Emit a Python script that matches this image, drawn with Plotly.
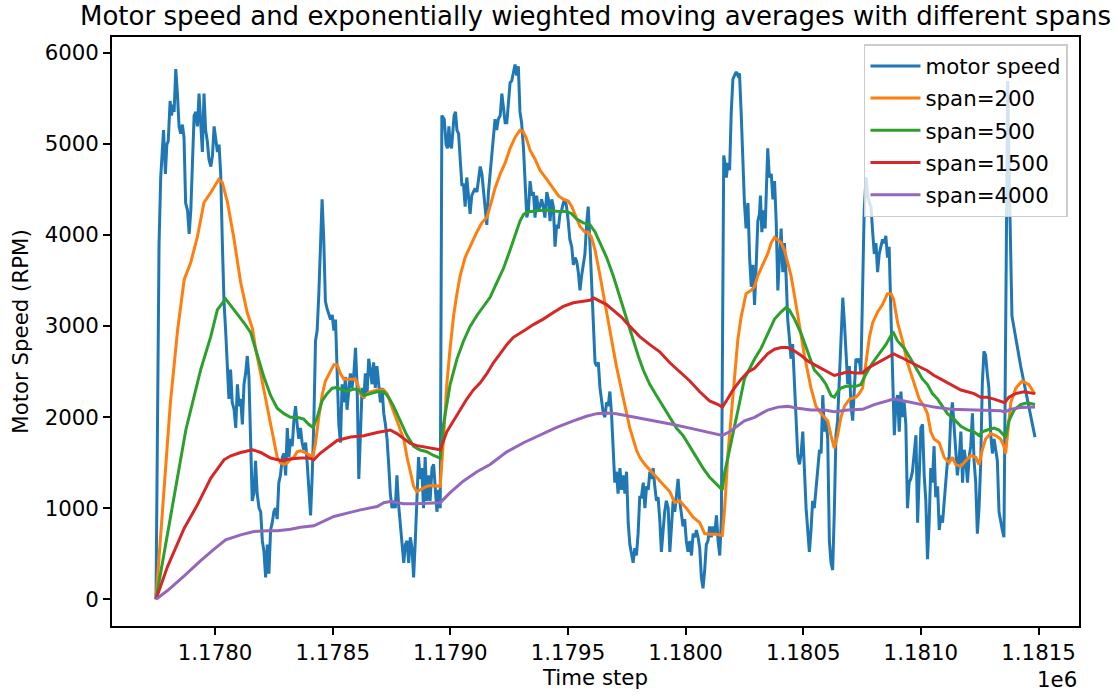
import plotly.graph_objects as go

# ---- motor speed samples (time step, RPM) ----
speed_t = [
    1177549, 1177555, 1177562, 1177569, 1177581, 1177589, 1177595, 1177601, 1177609, 1177615,
    1177620, 1177626, 1177633, 1177640, 1177647, 1177654, 1177661, 1177668, 1177675, 1177683,
    1177690, 1177697, 1177704, 1177711, 1177718, 1177725, 1177732, 1177739, 1177746, 1177753,
    1177760, 1177767, 1177774, 1177782, 1177789, 1177796, 1177803, 1177810, 1177817, 1177824,
    1177831, 1177838, 1177845, 1177852, 1177859, 1177866, 1177873, 1177881, 1177888, 1177895,
    1177902, 1177909, 1177916, 1177923, 1177930, 1177937, 1177944, 1177951, 1177958, 1177965,
    1177972, 1177979, 1177987, 1177994, 1178001, 1178008, 1178015, 1178022, 1178029, 1178036,
    1178043, 1178050, 1178057, 1178064, 1178071, 1178078, 1178086, 1178093, 1178100, 1178107,
    1178114, 1178121, 1178128, 1178135, 1178142, 1178149, 1178156, 1178163, 1178170, 1178177,
    1178185, 1178192, 1178199, 1178206, 1178213, 1178220, 1178227, 1178234, 1178241, 1178248,
    1178255, 1178262, 1178269, 1178276, 1178284, 1178291, 1178298, 1178305, 1178312, 1178319,
    1178326, 1178333, 1178340, 1178347, 1178354, 1178361, 1178368, 1178375, 1178382, 1178390,
    1178397, 1178404, 1178411, 1178418, 1178425, 1178432, 1178439, 1178446, 1178453, 1178460,
    1178467, 1178474, 1178481, 1178488, 1178496, 1178503, 1178510, 1178517, 1178524, 1178531,
    1178538, 1178545, 1178552, 1178559, 1178566, 1178573, 1178580, 1178588, 1178595, 1178602,
    1178609, 1178616, 1178623, 1178630, 1178637, 1178644, 1178651, 1178658, 1178665, 1178672,
    1178679, 1178686, 1178693, 1178700, 1178707, 1178714, 1178722, 1178729, 1178736, 1178743,
    1178750, 1178757, 1178764, 1178774, 1178782, 1178788, 1178794, 1178799, 1178805, 1178811,
    1178816, 1178822, 1178828, 1178835, 1178842, 1178849, 1178856, 1178863, 1178870, 1178877,
    1178884, 1178891, 1178898, 1178905, 1178913, 1178920, 1178927, 1178934, 1178941, 1178948,
    1178955, 1178962, 1178969, 1178976, 1178983, 1178990, 1178997, 1179004, 1179012, 1179019,
    1179026, 1179033, 1179040, 1179047, 1179054, 1179061, 1179068, 1179075, 1179082, 1179089,
    1179096, 1179103, 1179111, 1179118, 1179125, 1179132, 1179139, 1179146, 1179153, 1179160,
    1179167, 1179174, 1179181, 1179188, 1179195, 1179202, 1179210, 1179217, 1179224, 1179231,
    1179238, 1179245, 1179252, 1179259, 1179266, 1179273, 1179280, 1179287, 1179294, 1179301,
    1179308, 1179316, 1179323, 1179330, 1179337, 1179344, 1179351, 1179358, 1179365, 1179372,
    1179379, 1179386, 1179390, 1179396, 1179402, 1179407, 1179415, 1179422, 1179429, 1179436,
    1179443, 1179450, 1179457, 1179464, 1179471, 1179478, 1179485, 1179492, 1179499, 1179506,
    1179513, 1179521, 1179528, 1179535, 1179542, 1179549, 1179556, 1179563, 1179570, 1179577,
    1179584, 1179591, 1179598, 1179605, 1179612, 1179620, 1179627, 1179634, 1179641, 1179648,
    1179655, 1179662, 1179669, 1179676, 1179683, 1179690, 1179697, 1179704, 1179711, 1179718,
    1179726, 1179733, 1179740, 1179747, 1179754, 1179761, 1179768, 1179775, 1179782, 1179789,
    1179796, 1179803, 1179810, 1179818, 1179825, 1179832, 1179839, 1179846, 1179853, 1179860,
    1179867, 1179874, 1179881, 1179888, 1179895, 1179902, 1179909, 1179916, 1179924, 1179931,
    1179938, 1179945, 1179952, 1179956, 1179962, 1179967, 1179973, 1179980, 1179987, 1179994,
    1180001, 1180008, 1180015, 1180022, 1180029, 1180036, 1180043, 1180050, 1180057, 1180065,
    1180072, 1180079, 1180086, 1180093, 1180100, 1180107, 1180114, 1180118, 1180124, 1180132,
    1180138, 1180142, 1180149, 1180156, 1180164, 1180171, 1180178, 1180185, 1180192, 1180199,
    1180206, 1180213, 1180220, 1180227, 1180234, 1180241, 1180248, 1180255, 1180263, 1180270,
    1180277, 1180284, 1180291, 1180298, 1180305, 1180312, 1180319, 1180326, 1180333, 1180340,
    1180347, 1180354, 1180362, 1180369, 1180376, 1180383, 1180390, 1180397, 1180404, 1180411,
    1180418, 1180425, 1180432, 1180439, 1180446, 1180453, 1180460, 1180468, 1180475, 1180482,
    1180489, 1180496, 1180503, 1180510, 1180517, 1180524, 1180531, 1180538, 1180545, 1180552,
    1180559, 1180567, 1180574, 1180581, 1180588, 1180595, 1180602, 1180609, 1180616, 1180623,
    1180630, 1180637, 1180644, 1180651, 1180658, 1180665, 1180673, 1180680, 1180687, 1180694,
    1180701, 1180708, 1180715, 1180722, 1180729, 1180736, 1180743, 1180750, 1180757, 1180764,
    1180772, 1180779, 1180786, 1180793, 1180800, 1180807, 1180814, 1180821, 1180828, 1180835,
    1180842, 1180849, 1180856, 1180863, 1180871, 1180878, 1180885, 1180892, 1180899, 1180906,
    1180913, 1180920, 1180927, 1180934, 1180941, 1180948, 1180955, 1180962, 1180970, 1180977,
    1180984, 1180991, 1180998, 1181005, 1181012, 1181019, 1181026, 1181033, 1181040, 1181047,
    1181054, 1181061, 1181068, 1181075, 1181082, 1181089, 1181097, 1181104, 1181111, 1181118,
    1181125, 1181132, 1181139, 1181146, 1181153, 1181160, 1181165, 1181169, 1181176, 1181182,
    1181187, 1181224, 1181252, 1181285,
]
speed_rpm = [
    0, 1760, 3910, 4630, 5150, 4670, 4990, 5030, 5470, 5310,
    5430, 5350, 5820, 5550, 5190, 5110, 5210, 5070, 4350, 4270,
    4010, 4270, 4750, 5310, 5350, 5190, 5550, 5150, 4910, 5550,
    5150, 5030, 4830, 4750, 4870, 5190, 5030, 4910, 4990, 4670,
    3910, 3270, 2950, 2560, 2200, 2520, 2160, 2080, 1880, 2360,
    2120, 2200, 1920, 2360, 2480, 2670, 2440, 1760, 1080, 1160,
    1520, 1160, 1000, 960, 640, 520, 240, 600, 280, 760,
    840, 960, 1000, 880, 1280, 1360, 1560, 1600, 1360, 1880,
    1560, 1760, 1680, 1960, 2120, 1920, 1760, 1880, 1720, 1640,
    1720, 1480, 1240, 920, 1360, 1960, 2840, 2950, 3350, 3950,
    4390, 3950, 3270, 3190, 3120, 3070, 3120, 2950, 3070, 2360,
    1920, 1720, 2360, 2160, 2440, 2080, 2280, 2480, 2320, 2480,
    2760, 2320, 1320, 1960, 2320, 2200, 2480, 2240, 2640, 2520,
    2360, 2600, 2320, 2560, 2320, 2160, 2320, 2040, 1920, 1760,
    1480, 1160, 1000, 1080, 1000, 1360, 1040, 800, 640, 400,
    600, 640, 400, 680, 560, 240, 640, 1120, 1560, 1320,
    1440, 1000, 1560, 1080, 1360, 1080, 1440, 1480, 1200, 960,
    1200, 1000, 5310, 5270, 4990, 4950, 5190, 4990, 4950, 5110,
    5310, 5350, 5150, 5110, 4790, 4550, 4550, 4310, 4630, 4390,
    4230, 4430, 4470, 4510, 4470, 4630, 4750, 4670, 4470, 4310,
    4110, 4470, 4670, 4790, 5030, 5270, 5150, 5270, 5310, 5550,
    5390, 5230, 5230, 5510, 5670, 5690, 5790, 5870, 5750, 5850,
    5350, 5230, 4950, 4550, 4190, 4270, 4590, 4430, 4470, 4190,
    4430, 4270, 4310, 4390, 4310, 4190, 4470, 4390, 4150, 4390,
    4310, 3870, 4110, 4070, 4230, 4270, 4350, 4390, 4310, 4150,
    3950, 3870, 3670, 3750, 3710, 3590, 3390, 3550, 3670, 3790,
    4110, 4310, 4110, 3750, 3270, 2950, 2600, 2560, 2600, 2320,
    2160, 2040, 2000, 2160, 2120, 2280, 2040, 1720, 1280, 1400,
    1160, 1440, 1200, 1360, 1160, 1400, 840, 600, 480, 400,
    560, 480, 720, 1120, 1120, 1280, 1000, 1240, 1200, 1400,
    1320, 1440, 1240, 1080, 1120, 880, 520, 800, 960, 1080,
    1000, 520, 840, 1080, 960, 1160, 1320, 1080, 960, 800,
    880, 640, 520, 640, 480, 720, 680, 760, 680, 560,
    240, 120, 320, 600, 640, 800, 680, 800, 720, 920,
    640, 480, 880, 2560, 4870, 4790, 4630, 4790, 4710, 5350,
    5710, 5750, 5790, 5750, 5770, 5350, 4830, 4350, 4070, 4350,
    3750, 3430, 3670, 3230, 3670, 4150, 4230, 4430, 4030, 4270,
    4070, 4430, 4950, 4630, 4670, 4390, 4590, 4150, 3390, 3750,
    4070, 3590, 3910, 3550, 3070, 2870, 2640, 2800, 2320, 1800,
    1560, 1480, 1600, 1840, 1360, 1000, 760, 520, 760, 1080,
    1000, 1200, 1360, 1640, 1600, 2240, 1840, 1960, 1760, 640,
    400, 320, 960, 1800, 1960, 2400, 2800, 3310, 3030, 2680,
    2360, 2560, 2120, 1960, 2360, 2640, 2600, 2640, 2480, 3550,
    4270, 4630, 4430, 4350, 4310, 4030, 3790, 3910, 3590, 3790,
    3870, 3950, 3910, 3990, 3750, 3870, 3110, 2440, 1800, 2160,
    2240, 1840, 2280, 2000, 2160, 1920, 1000, 1280, 1320, 1400,
    1640, 1800, 840, 1440, 1880, 1920, 1360, 1080, 440, 840,
    1440, 1280, 1680, 1120, 1240, 760, 920, 840, 1080, 1320,
    1520, 1560, 2000, 2160, 1840, 1640, 1360, 1520, 1840, 1280,
    1640, 1520, 1280, 1560, 1680, 2040, 1520, 1280, 720, 1000,
    1480, 2360, 2720, 2680, 2480, 2320, 1800, 1600, 1760, 1640,
    1520, 960, 840, 760, 680, 3350, 4550, 5690, 4550, 3550,
    3110, 2560, 2200, 1780,
]

# ---- exponentially weighted moving averages ----
span200_t = [
    1177549, 1177580, 1177610, 1177641, 1177669, 1177697, 1177725, 1177753, 1177782, 1177816,
    1177831, 1177853, 1177879, 1177909, 1177937, 1177959, 1177972, 1177994, 1178015, 1178036,
    1178050, 1178064, 1178078, 1178093, 1178107, 1178121, 1178135, 1178149, 1178163, 1178177,
    1178192, 1178216, 1178227, 1178241, 1178255, 1178269, 1178291, 1178305, 1178319, 1178333,
    1178347, 1178375, 1178397, 1178404, 1178418, 1178432, 1178446, 1178460, 1178488, 1178517,
    1178531, 1178545, 1178573, 1178602, 1178616, 1178630, 1178644, 1178658, 1178672, 1178686,
    1178700, 1178722, 1178743, 1178757, 1178771, 1178785, 1178799, 1178814, 1178828, 1178842,
    1178863, 1178884, 1178913, 1178934, 1178955, 1178969, 1178990, 1179012, 1179033, 1179054,
    1179075, 1179096, 1179108, 1179122, 1179139, 1179160, 1179181, 1179210, 1179238, 1179259,
    1179280, 1179301, 1179316, 1179330, 1179351, 1179372, 1179386, 1179400, 1179415, 1179436,
    1179457, 1179478, 1179506, 1179535, 1179563, 1179591, 1179605, 1179627, 1179648, 1179669,
    1179690, 1179711, 1179733, 1179754, 1179775, 1179803, 1179832, 1179860, 1179881, 1179902,
    1179931, 1179956, 1179966, 1179980, 1179994, 1180008, 1180022, 1180036, 1180057, 1180079,
    1180093, 1180107, 1180128, 1180149, 1180164, 1180178, 1180189, 1180206, 1180220, 1180248,
    1180277, 1180305, 1180333, 1180354, 1180376, 1180404, 1180418, 1180432, 1180446, 1180460,
    1180475, 1180496, 1180524, 1180538, 1180552, 1180567, 1180581, 1180595, 1180616, 1180637,
    1180658, 1180673, 1180684, 1180701, 1180722, 1180743, 1180772, 1180793, 1180814, 1180828,
    1180842, 1180856, 1180878, 1180899, 1180920, 1180934, 1180948, 1180970, 1180991, 1181012,
    1181033, 1181047, 1181061, 1181075, 1181097, 1181118, 1181139, 1181153, 1181160, 1181170,
    1181182, 1181203, 1181231, 1181259, 1181285,
]
span200 = [
    0, 1150, 2150, 2960, 3510, 3700, 3980, 4355, 4465, 4610,
    4575, 4355, 3980, 3475, 3145, 2970, 2755, 2475, 2196, 1918,
    1718, 1558, 1498, 1478, 1498, 1538, 1558, 1618, 1630, 1618,
    1598, 1558, 1718, 1997, 2237, 2396, 2516, 2575, 2575, 2476,
    2416, 2416, 2416, 2376, 2257, 2217, 2257, 2276, 2296, 2296,
    2257, 2157, 1957, 1758, 1558, 1398, 1240, 1179, 1199, 1219,
    1240, 1247, 1240, 1240, 1758, 2356, 2755, 3115, 3354, 3553,
    3753, 3872, 4032, 4132, 4191, 4312, 4511, 4670, 4790, 4950,
    5069, 5149, 5140, 5069, 4930, 4830, 4710, 4610, 4511, 4431,
    4391, 4371, 4312, 4232, 4092, 4032, 4032, 3972, 3833, 3553,
    3234, 2955, 2556, 2196, 1877, 1638, 1558, 1478, 1419, 1359,
    1299, 1240, 1179, 1060, 1080, 1000, 900, 840, 721, 713,
    713, 700, 1000, 1600, 2000, 2400, 2850, 3100, 3354, 3393,
    3434, 3553, 3673, 3793, 3913, 3972, 3952, 3913, 3833, 3553,
    3115, 2675, 2317, 2117, 2037, 1957, 1797, 1658, 1797, 1997,
    2117, 2196, 2217, 2257, 2317, 2636, 2875, 3035, 3154, 3234,
    3354, 3354, 3294, 3035, 2835, 2595, 2356, 2196, 2117, 2037,
    1838, 1758, 1718, 1558, 1498, 1558, 1478, 1459, 1519, 1578,
    1558, 1478, 1638, 1758, 1818, 1797, 1758, 1678, 1598, 1877,
    2157, 2317, 2396, 2356, 2250,
]

span500_t = [
    1177549, 1177584, 1177619, 1177655, 1177676, 1177704, 1177739, 1177782, 1177810, 1177845,
    1177881, 1177923, 1177951, 1177979, 1178008, 1178036, 1178064, 1178093, 1178121, 1178149,
    1178177, 1178199, 1178217, 1178234, 1178255, 1178276, 1178298, 1178319, 1178340, 1178361,
    1178390, 1178411, 1178432, 1178460, 1178488, 1178517, 1178538, 1178559, 1178588, 1178616,
    1178644, 1178672, 1178700, 1178729, 1178757, 1178771, 1178799, 1178828, 1178856, 1178884,
    1178913, 1178941, 1178969, 1178997, 1179026, 1179054, 1179075, 1179096, 1179111, 1179127,
    1179167, 1179210, 1179252, 1179294, 1179316, 1179337, 1179365, 1179393, 1179415, 1179436,
    1179464, 1179492, 1179521, 1179549, 1179577, 1179598, 1179620, 1179648, 1179676, 1179704,
    1179733, 1179761, 1179789, 1179818, 1179846, 1179874, 1179902, 1179931, 1179956, 1179966,
    1179980, 1179994, 1180008, 1180029, 1180050, 1180065, 1180093, 1180121, 1180149, 1180178,
    1180206, 1180227, 1180241, 1180263, 1180291, 1180319, 1180347, 1180376, 1180397, 1180418,
    1180432, 1180446, 1180460, 1180482, 1180503, 1180524, 1180545, 1180567, 1180595, 1180623,
    1180651, 1180673, 1180684, 1180701, 1180729, 1180757, 1180786, 1180807, 1180828, 1180849,
    1180871, 1180892, 1180913, 1180941, 1180970, 1180998, 1181026, 1181047, 1181061, 1181082,
    1181111, 1181132, 1181146, 1181160, 1181174, 1181196, 1181224, 1181252, 1181285,
]
span500 = [
    0, 505, 1018, 1531, 1861, 2154, 2520, 2886, 3180, 3297,
    3180, 3035, 2930, 2676, 2436, 2237, 2097, 2037, 1997, 1997,
    1977, 1918, 1885, 1997, 2177, 2257, 2317, 2325, 2296, 2284,
    2308, 2296, 2237, 2257, 2277, 2277, 2217, 2117, 1958, 1797,
    1678, 1638, 1619, 1578, 1550, 1918, 2357, 2636, 2835, 2995,
    3115, 3214, 3314, 3474, 3633, 3833, 3992, 4152, 4224, 4252,
    4264, 4272, 4260, 4256, 4232, 4172, 4132, 4112, 4032, 3913,
    3753, 3554, 3314, 3075, 2835, 2676, 2516, 2357, 2237, 2117,
    1997, 1878, 1798, 1678, 1559, 1439, 1339, 1259, 1200, 1390,
    1560, 1700, 1900, 2154, 2420, 2500, 2636, 2756, 2915, 3075,
    3155, 3202, 3174, 3075, 2915, 2716, 2516, 2436, 2357, 2237,
    2217, 2277, 2317, 2337, 2337, 2337, 2357, 2476, 2596, 2696,
    2795, 2895, 2923, 2835, 2756, 2636, 2516, 2416, 2357, 2257,
    2197, 2117, 2037, 1977, 1898, 1858, 1838, 1798, 1838, 1858,
    1878, 1858, 1818, 1778, 1958, 2077, 2137, 2157, 2137,
]

span1500_t = [
    1177549, 1177598, 1177669, 1177725, 1177782, 1177838, 1177867, 1177909, 1177959, 1177994,
    1178036, 1178079, 1178121, 1178163, 1178199, 1178220, 1178248, 1178291, 1178319, 1178376,
    1178432, 1178489, 1178517, 1178545, 1178573, 1178602, 1178630, 1178658, 1178700, 1178729,
    1178757, 1178785, 1178814, 1178842, 1178870, 1178898, 1178927, 1178955, 1178983, 1179012,
    1179040, 1179068, 1179096, 1179118, 1179153, 1179195, 1179238, 1179280, 1179323, 1179365,
    1179393, 1179410, 1179436, 1179464, 1179492, 1179528, 1179563, 1179605, 1179648, 1179690,
    1179733, 1179775, 1179818, 1179860, 1179902, 1179938, 1179956, 1179973, 1180001, 1180036,
    1180065, 1180093, 1180121, 1180149, 1180178, 1180206, 1180234, 1180263, 1180291, 1180319,
    1180347, 1180376, 1180404, 1180432, 1180460, 1180489, 1180517, 1180552, 1180574, 1180602,
    1180630, 1180658, 1180684, 1180715, 1180743, 1180772, 1180800, 1180828, 1180856, 1180885,
    1180913, 1180941, 1180970, 1180998, 1181026, 1181054, 1181082, 1181111, 1181139, 1181156,
    1181174, 1181203, 1181238, 1181285,
]
span1500 = [
    0, 358, 780, 1036, 1330, 1531, 1575, 1611, 1641, 1611,
    1550, 1523, 1539, 1550, 1550, 1531, 1605, 1685, 1743, 1780,
    1795, 1831, 1846, 1858, 1818, 1758, 1710, 1686, 1670, 1658,
    1640, 1838, 1958, 2077, 2197, 2297, 2376, 2476, 2596, 2696,
    2795, 2875, 2915, 2955, 3015, 3075, 3147, 3214, 3254, 3274,
    3282, 3306, 3274, 3234, 3174, 3095, 2995, 2883, 2795, 2716,
    2596, 2496, 2396, 2277, 2177, 2137, 2109, 2177, 2297, 2416,
    2496, 2536, 2616, 2696, 2744, 2764, 2764, 2724, 2676, 2616,
    2576, 2536, 2496, 2456, 2476, 2496, 2484, 2484, 2536, 2576,
    2616, 2656, 2692, 2656, 2616, 2576, 2544, 2508, 2456, 2416,
    2376, 2337, 2297, 2277, 2257, 2217, 2217, 2197, 2177, 2157,
    2217, 2257, 2277, 2257,
]

span4000_t = [
    1177549, 1177598, 1177669, 1177739, 1177796, 1177845, 1177909, 1177965, 1178022, 1178065,
    1178121, 1178163, 1178220, 1178262, 1178305, 1178362, 1178418, 1178489, 1178517, 1178545,
    1178573, 1178602, 1178644, 1178686, 1178729, 1178757, 1178799, 1178856, 1178913, 1178969,
    1179040, 1179111, 1179181, 1179252, 1179323, 1179379, 1179422, 1179464, 1179506, 1179563,
    1179620, 1179676, 1179747, 1179818, 1179888, 1179956, 1179987, 1180008, 1180050, 1180093,
    1180149, 1180192, 1180234, 1180277, 1180333, 1180390, 1180432, 1180489, 1180552, 1180602,
    1180658, 1180684, 1180729, 1180800, 1180856, 1180927, 1180998, 1181068, 1181139, 1181156,
    1181182, 1181224, 1181285,
]
span4000 = [
    0, 95, 256, 424, 549, 652, 707, 743, 751, 751,
    769, 791, 806, 853, 908, 945, 981, 1018, 1060, 1072,
    1060, 1048, 1048, 1048, 1056, 1060, 1170, 1299, 1399, 1479,
    1618, 1718, 1798, 1886, 1958, 2009, 2037, 2045, 2037, 2009,
    1978, 1958, 1918, 1878, 1838, 1798, 1838, 1878, 1958, 1997,
    2077, 2109, 2117, 2097, 2077, 2077, 2057, 2077, 2085, 2137,
    2177, 2197, 2177, 2137, 2109, 2085, 2077, 2077, 2069, 2057,
    2085, 2105, 2109,
]

x_tickvals = [1177800, 1178300, 1178800, 1179300, 1179800, 1180300, 1180800, 1181300]
x_ticktext = ["1.1780", "1.1785", "1.1790", "1.1795", "1.1800", "1.1805", "1.1810", "1.1815"]
y_tickvals = [0, 1000, 2000, 3000, 4000, 5000, 6000]

series = [
    ("motor speed", speed_t, speed_rpm, "#1f77b4"),
    ("span=200", span200_t, span200, "#ff7f0e"),
    ("span=500", span500_t, span500, "#2ca02c"),
    ("span=1500", span1500_t, span1500, "#d62728"),
    ("span=4000", span4000_t, span4000, "#9467bd"),
]

FONT = "DejaVu Sans"
FS = 21.3

fig = go.Figure()
for name, xs, ys, color in series:
    fig.add_trace(go.Scatter(
        x=xs, y=ys, mode="lines", name=name, legendgroup=name,
        line=dict(color=color, width=3),
    ))

axis_common = dict(
    showline=True, linecolor="black", linewidth=1.7, mirror=True,
    ticks="outside", ticklen=7, tickwidth=1.7, tickcolor="black",
    showgrid=False, zeroline=False, automargin=False,
    tickfont=dict(family=FONT, size=FS, color="black"),
)

fig.update_layout(
    width=1117, height=696,
    margin=dict(l=112, r=38, t=37, b=70),
    paper_bgcolor="white", plot_bgcolor="white",
    font=dict(family=FONT, color="black"),
    showlegend=True,
    legend=dict(
        x=0.9886, xanchor="right", y=0.988, yanchor="top",
        bgcolor="rgba(255,255,255,0.8)", bordercolor="#cccccc", borderwidth=1.5,
        font=dict(family=FONT, size=FS, color="black"),
        tracegroupgap=1.5, itemwidth=50,
    ),
    xaxis=dict(
        range=[1177362, 1181472],
        tickmode="array", tickvals=x_tickvals, ticktext=x_ticktext,
        ticklabelstandoff=0,
        title=dict(text="Time step", font=dict(family=FONT, size=FS), standoff=6),
        **axis_common,
    ),
    yaxis=dict(
        range=[-294, 6172],
        tickmode="array", tickvals=y_tickvals,
        title=dict(text="Motor Speed (RPM)", font=dict(family=FONT, size=FS), standoff=10),
        **axis_common,
    ),
    annotations=[
        dict(
            text="Motor speed and exponentially wieghted moving averages with different spans",
            xref="paper", yref="paper", x=0.5, y=1.0, yshift=21,
            xanchor="center", yanchor="middle", showarrow=False,
            font=dict(family=FONT, size=26, color="black"),
        ),
        dict(
            text="1e6", xref="paper", yref="paper", x=1.0, y=0.0, yshift=-53,
            xanchor="right", yanchor="middle", showarrow=False,
            font=dict(family=FONT, size=FS, color="black"),
        ),
    ],
)

fig.write_html("out.html")
